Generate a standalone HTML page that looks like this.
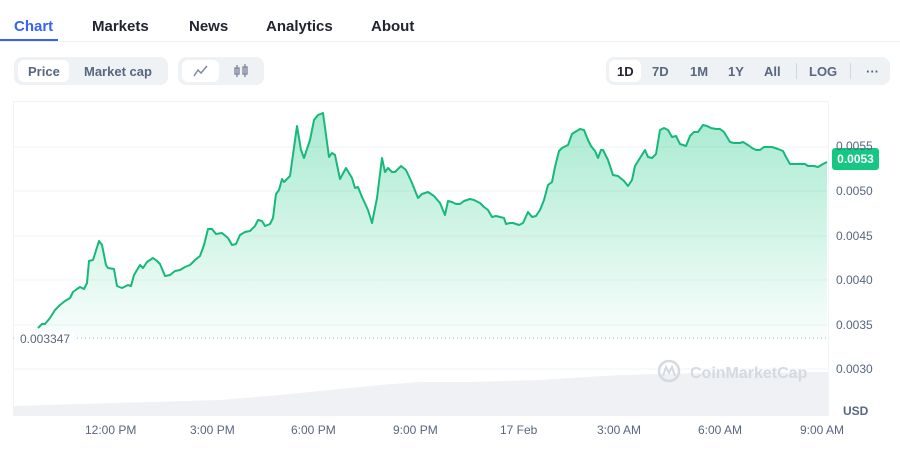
<!DOCTYPE html>
<html><head><meta charset="utf-8"><style>
body{margin:0;width:900px;height:460px;background:#fff;font-family:"Liberation Sans",sans-serif;position:relative;overflow:hidden}
.a{position:absolute;white-space:nowrap}
.tab{top:18px;font-size:15px;font-weight:bold;color:#222531}
.grp{background:#eff2f5;border-radius:8px;height:28px;top:57px}
.pill{background:#fff;border-radius:6px;height:22px;top:60px}
.b{top:64px;font-size:13px;font-weight:bold;color:#58667e}
.yl{font-size:12px;color:#58667e;left:836px}
.xl{font-size:12px;color:#58667e;top:423px}
</style></head><body>
<div class="a tab" style="left:14px;color:#3861fb">Chart</div>
<div class="a tab" style="left:92px">Markets</div>
<div class="a tab" style="left:189px">News</div>
<div class="a tab" style="left:266px">Analytics</div>
<div class="a tab" style="left:371px">About</div>
<div class="a" style="left:0;top:41px;width:900px;height:1px;background:#eff2f5"></div>
<div class="a" style="left:0;top:39px;width:58px;height:2px;background:#3861fb"></div>

<div class="a grp" style="left:14px;width:154px"></div>
<div class="a pill" style="left:18px;width:51px"></div>
<div class="a b" style="left:28px">Price</div>
<div class="a b" style="left:84px">Market cap</div>
<div class="a grp" style="left:178px;width:86px"></div>
<div class="a pill" style="left:182px;width:37px"></div>
<svg class="a" style="left:193px;top:64px" width="16" height="14"><polyline points="1,12 5,6 8,9 14,2" fill="none" stroke="#808a9d" stroke-width="1.5"/></svg>
<svg class="a" style="left:233px;top:63px" width="16" height="16"><g fill="none" stroke="#808a9d" stroke-width="1.4"><rect x="2" y="5" width="4" height="6"/><line x1="4" y1="2" x2="4" y2="14"/><rect x="10" y="4" width="4" height="7"/><line x1="12" y1="1" x2="12" y2="14"/></g></svg>

<div class="a grp" style="left:606px;width:284px"></div>
<div class="a pill" style="left:609px;width:32px"></div>
<div class="a b" style="left:617px;color:#222531">1D</div>
<div class="a b" style="left:652px">7D</div>
<div class="a b" style="left:690px">1M</div>
<div class="a b" style="left:728px">1Y</div>
<div class="a b" style="left:764px">All</div>
<div class="a" style="left:796px;top:63px;width:1px;height:16px;background:#cfd6e4"></div>
<div class="a b" style="left:809px">LOG</div>
<div class="a" style="left:850px;top:63px;width:1px;height:16px;background:#cfd6e4"></div>
<div class="a b" style="left:866px">···</div>

<svg class="a" style="left:0;top:0" width="900" height="460">
<defs><linearGradient id="g" gradientUnits="userSpaceOnUse" x1="0" y1="110" x2="0" y2="340">
<stop offset="0" stop-color="#16c784" stop-opacity="0.38"/><stop offset="1" stop-color="#16c784" stop-opacity="0.02"/></linearGradient></defs>
<rect x="13.5" y="101.5" width="815" height="314" fill="none" stroke="#f1f3f6"/>
<g stroke="#f1f3f6"><line x1="13" y1="147" x2="828" y2="147"/><line x1="13" y1="191" x2="828" y2="191"/><line x1="13" y1="236" x2="828" y2="236"/><line x1="13" y1="280" x2="828" y2="280"/><line x1="13" y1="325" x2="828" y2="325"/><line x1="13" y1="369" x2="828" y2="369"/></g>
<polygon fill="#eff1f4" points="13,416 13,406 80,404 150,402 220,400 290,394 330,390 380,385 420,382 470,382 540,380 570,378 620,375 700,373 828,372 828,416"/>
<line x1="13" y1="338" x2="828" y2="338" stroke="#b0b6c2" stroke-dasharray="1,3"/>
<path fill="url(#g)" d="M38,328 L42,324 45,324 50,318 55,310 60,305 65,301 70,298 73,292 77,289 80,287 84,289 87,283 89,261 93,260 99,241 102,245 106,265 108,268 114,269 117,286 122,288 128,285 131,286 134,275 140,265 143,268 147,262 153,258 157,261 160,264 165,276 170,275 175,271 180,270 185,267 190,265 195,260 200,256 204,245 208,229 212,229 216,234 222,233 228,238 232,245 236,244 240,235 245,232 250,231 255,226 258,220 262,221 265,226 270,224 273,218 276,194 279,190 282,179 284,182 290,176 297,126 301,150 304,158 310,140 314,120 318,115 323,113 329,157 332,153 335,155 340,179 346,168 352,178 355,188 358,187 362,197 368,210 372,223 377,198 382,158 385,172 388,168 392,172 395,172 401,166 406,170 412,183 418,198 422,194 428,192 434,196 440,203 445,215 448,201 452,202 456,204 460,204 464,201 470,199 474,200 480,203 484,207 488,210 492,217 496,216 500,217 504,218 506,224 510,223 513,223 519,225 523,223 528,212 532,217 536,216 540,210 544,200 548,185 552,182 555,167 559,151 562,148 568,145 572,134 575,132 580,129 584,130 588,140 591,146 595,151 598,158 601,150 603,150 608,160 613,175 618,176 624,181 628,186 632,180 635,166 640,158 645,150 648,157 652,158 656,154 660,130 664,128 668,130 672,137 676,136 680,144 686,146 690,136 694,132 698,132 703,125 707,126 711,128 716,129 720,129 724,132 730,142 734,143 740,143 743,142 748,145 752,148 756,150 760,150 764,147 772,147 778,149 783,151 786,157 790,164 798,164 805,164 808,166 814,166 818,167 823,164 827,162 L827,340 38,340Z"/>
<path fill="none" stroke="#16b979" stroke-width="2" stroke-linejoin="round" d="M38,328 L42,324 45,324 50,318 55,310 60,305 65,301 70,298 73,292 77,289 80,287 84,289 87,283 89,261 93,260 99,241 102,245 106,265 108,268 114,269 117,286 122,288 128,285 131,286 134,275 140,265 143,268 147,262 153,258 157,261 160,264 165,276 170,275 175,271 180,270 185,267 190,265 195,260 200,256 204,245 208,229 212,229 216,234 222,233 228,238 232,245 236,244 240,235 245,232 250,231 255,226 258,220 262,221 265,226 270,224 273,218 276,194 279,190 282,179 284,182 290,176 297,126 301,150 304,158 310,140 314,120 318,115 323,113 329,157 332,153 335,155 340,179 346,168 352,178 355,188 358,187 362,197 368,210 372,223 377,198 382,158 385,172 388,168 392,172 395,172 401,166 406,170 412,183 418,198 422,194 428,192 434,196 440,203 445,215 448,201 452,202 456,204 460,204 464,201 470,199 474,200 480,203 484,207 488,210 492,217 496,216 500,217 504,218 506,224 510,223 513,223 519,225 523,223 528,212 532,217 536,216 540,210 544,200 548,185 552,182 555,167 559,151 562,148 568,145 572,134 575,132 580,129 584,130 588,140 591,146 595,151 598,158 601,150 603,150 608,160 613,175 618,176 624,181 628,186 632,180 635,166 640,158 645,150 648,157 652,158 656,154 660,130 664,128 668,130 672,137 676,136 680,144 686,146 690,136 694,132 698,132 703,125 707,126 711,128 716,129 720,129 724,132 730,142 734,143 740,143 743,142 748,145 752,148 756,150 760,150 764,147 772,147 778,149 783,151 786,157 790,164 798,164 805,164 808,166 814,166 818,167 823,164 827,162"/>
<circle cx="669" cy="371" r="10" fill="none" stroke="#d5d9e0" stroke-width="2.5"/>
<path d="M663,376 L666,367 669,373 672,367 675,376" fill="none" stroke="#d5d9e0" stroke-width="2"/>
<text x="690" y="378" font-family="Liberation Sans" font-weight="bold" font-size="16" fill="#d5d9e0">CoinMarketCap</text>
</svg>
<div class="a" style="left:14px;top:332px;font-size:12px;color:#58667e;background:#fff;padding:0 4px 0 6px">0.003347</div>
<div class="a" style="left:832px;top:148px;width:47px;height:22px;background:#16c784;border-radius:3px;color:#fff;font-size:12px;font-weight:bold;line-height:22px;text-align:center">0.0053</div>
<div class="a yl" style="top:139px">0.0055</div>
<div class="a yl" style="top:184px">0.0050</div>
<div class="a yl" style="top:229px">0.0045</div>
<div class="a yl" style="top:273px">0.0040</div>
<div class="a yl" style="top:318px">0.0035</div>
<div class="a yl" style="top:362px">0.0030</div>
<div class="a" style="left:843px;top:404px;font-size:12px;font-weight:bold;color:#58667e">USD</div>
<div class="a xl" style="left:85px">12:00 PM</div>
<div class="a xl" style="left:190px">3:00 PM</div>
<div class="a xl" style="left:291px">6:00 PM</div>
<div class="a xl" style="left:393px">9:00 PM</div>
<div class="a xl" style="left:500px">17 Feb</div>
<div class="a xl" style="left:597px">3:00 AM</div>
<div class="a xl" style="left:698px">6:00 AM</div>
<div class="a xl" style="left:800px">9:00 AM</div>
</body></html>
